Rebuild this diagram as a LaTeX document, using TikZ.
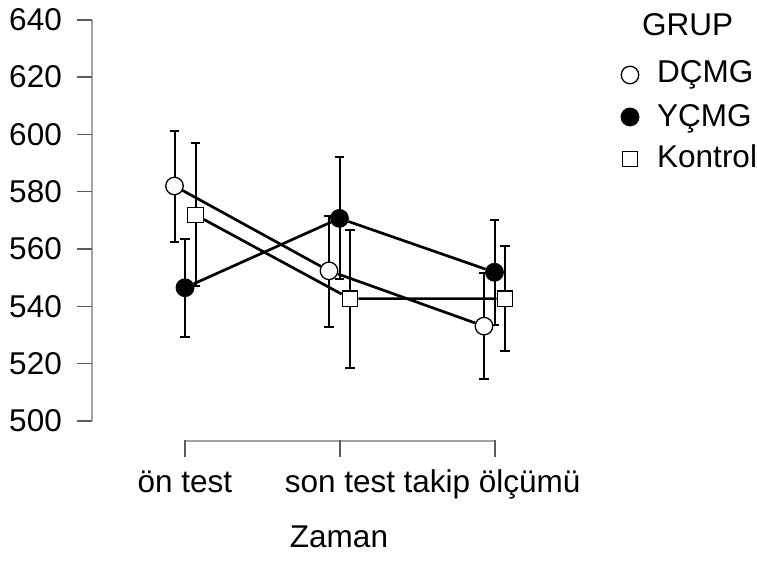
\documentclass[tikz,border=0pt]{standalone}
\usepackage{fontspec}
\setmainfont{Liberation Sans}
\usetikzlibrary{arrows.meta}

\definecolor{axisline}{gray}{0.64}
\definecolor{axistick}{gray}{0.36}

\tikzset{
  opendot/.style = {circle, draw, fill=white, line width=1.3pt, inner sep=0pt, minimum size=17.5pt},
  fulldot/.style = {circle, draw, fill=black, line width=1.3pt, inner sep=0pt, minimum size=17.5pt},
  openbox/.style = {rectangle, draw, fill=white, line width=1.3pt, inner sep=0pt, minimum size=15.5pt},
  errbar/.style = {line width=2pt, {Bar[width=9.5pt]}-{Bar[width=9.5pt]}},
  mean/.style = {line width=2.7pt},
  lbl/.style = {font=\fontsize{31.5}{36}\selectfont, inner sep=0pt},
}

\begin{document}
\begin{tikzpicture}[x=1pt, y=1pt]
  \useasboundingbox (0,0) rectangle (757,561);

  % y axis
  \draw[axisline, line width=1.5pt] (92,541.2) -- (92,140);
  \foreach \v [evaluate=\v as \yy using 2.866*\v-1293] in {500,520,...,640} {
    \draw[axistick, line width=1.5pt] (76.5,\yy) -- (92,\yy);
    \node[lbl, anchor=east] (tick\v) at (62,\yy) {\v};
  }

  % x axis
  \draw[axisline, line width=1.5pt] (185,120) -- (495,120);
  \foreach \x in {185,340,495}
    \draw[axistick, line width=1.5pt] (\x,120.7) -- (\x,104);
  \node[lbl, anchor=base] (on)    at (185,68) {ön test};
  \node[lbl, anchor=base] (son)   at (340,68) {son test};
  \node[lbl, anchor=base] (takip) at (492,68) {takip ölçümü};
  \node[lbl, anchor=base] (zaman) at (339,13) {Zaman};

  \begin{scope}[y=2.866pt, yshift=-1293pt]
    % error bars
    \foreach \x/\lo/\hi in {174.5/562.2/601.5, 329/532.6/571.9, 484/514.3/552.1,
                            185/528.9/564.0, 339.5/549.2/592.5, 494.5/533.1/570.5,
                            195.5/546.6/597.2, 350/518.2/566.9, 505/524.0/561.4}
      \draw[errbar] (\x,\lo) -- (\x,\hi);

    % means
    \node[opendot] (d1) at (174.5,582.0) {};
    \node[opendot] (d2) at (329,552.4) {};
    \node[opendot] (d3) at (484,533.1) {};
    \node[fulldot] (y1) at (185,546.5) {};
    \node[fulldot] (y2) at (339.5,570.7) {};
    \node[fulldot] (y3) at (494.5,551.9) {};
    \node[openbox] (k1) at (195.5,571.9) {};
    \node[openbox] (k2) at (350,542.7) {};
    \node[openbox] (k3) at (505,542.7) {};

    \draw[mean] (d1) -- (d2) -- (d3);
    \draw[mean] (y1) -- (y2) -- (y3);
    \draw[mean] (k1) -- (k2) -- (k3);
  \end{scope}

  % legend
  \node[lbl, anchor=base west] (grup) at (642,525) {GRUP};
  \node[opendot] (legd) at (630,486) {};
  \node[lbl, anchor=base west] at (657,478) {DÇMG};
  \node[fulldot] (legy) at (630,444) {};
  \node[lbl, anchor=base west] at (657,434) {YÇMG};
  \node[openbox] (legk) at (630,402) {};
  \node[lbl, anchor=base west] at (657,393) {Kontrol};
\end{tikzpicture}
\end{document}
